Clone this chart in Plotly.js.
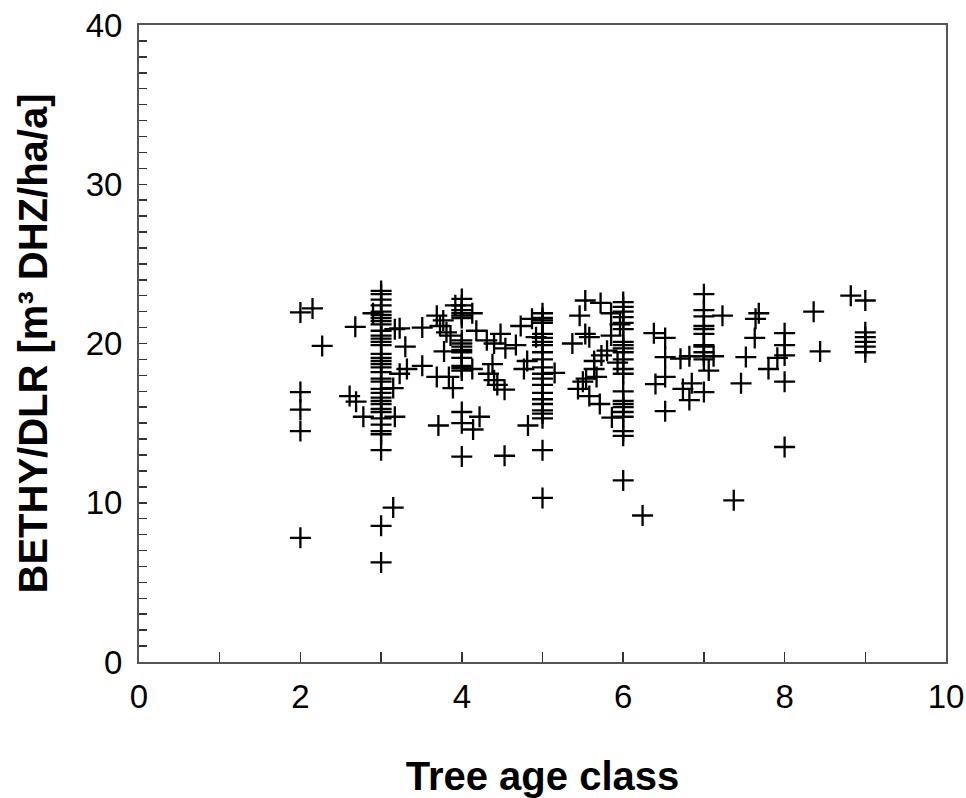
<!DOCTYPE html>
<html>
<head>
<meta charset="utf-8">
<script src="https://cdn.plot.ly/plotly-3.0.1.min.js"></script>
<style>html,body{margin:0;padding:0;background:#fff;}#chart{width:966px;height:798px;}</style>
</head>
<body>
<div id="chart"></div>
<script>
// Tree age class (x) and BETHY/DLR increment (y)
const ageClass = [
  // around class 2
  2,2,2,2,2,2.15,2.27,2.68,2.61,2.69,2.78,2.9,
  // class 3 column
  3,3,3,3,3,3,3,3,3,3,3,3,3,3,3,3,3,3,3,3,3,3,3,3,3,3,3,3,3,3,3,3,3,3,3,3,
  // between 3 and 4
  3.17,3.23,3.3,3.32,3.23,3.15,3.17,3.15,3.51,3.51,3.69,3.77,3.73,3.81,3.86,3.78,3.69,3.84,3.89,3.71,3.92,
  // class 4 column
  4,4,4,4,4,4,4,4,4,4,4,4,4,4,4,4,4,4,
  // between 4 and 5
  4.13,4.18,4.13,4.14,4.22,4.31,4.4,4.38,4.33,4.4,4.44,4.53,4.48,4.54,4.67,4.73,4.87,4.92,4.81,4.77,4.82,4.53,
  // class 5 column
  5,5,5,5,5,5,5,5,5,5,5,5,5,5,5,5,5,5,5,5,5,5,
  // between 5 and 6
  5.15,5.37,5.46,5.53,5.72,5.85,5.96,5.53,5.58,5.85,5.8,5.73,5.64,5.93,5.64,5.67,5.54,5.5,5.44,5.58,5.71,5.86,
  // class 6 column
  6,6,6,6,6,6,6,6,6,6,6,6,6,6,6,6,6,6,6,6,6,6,
  // between 6 and 7
  6.24,6.38,6.52,6.52,6.71,6.82,6.4,6.52,6.74,6.85,6.82,6.52,
  // class 7 column
  7,7,7,7,7,7,7,7,7,7,7,7,
  // between 7 and 8
  7.06,7.12,7.23,7.37,7.46,7.52,7.63,7.64,7.68,7.8,7.91,
  // class 8 column
  8,8,8,8,8,
  // between 8 and 9
  8.36,8.44,8.82,
  // class 9 column
  9,9,9,9,9,9
];
const bethyDlr = [
  21.95,16.95,15.85,14.5,7.8,22.2,19.85,21.05,16.7,16.35,15.4,21.9,
  23.3,23.1,22.75,22.4,22.0,21.8,21.6,21.4,21.2,20.8,20.5,20.3,20.1,19.9,19.35,19.1,18.9,18.7,18.5,18.2,17.8,17.6,17.15,16.9,16.6,16.4,16.2,15.9,15.7,15.3,14.9,14.5,14.3,13.3,8.55,6.25,
  20.9,20.95,19.8,18.4,18.1,17.2,15.4,9.7,21.0,18.6,21.75,21.45,21.1,20.7,20.5,19.5,17.9,17.9,17.2,14.85,22.4,
  22.8,22.4,22.1,21.9,21.75,21.6,20.2,20.0,19.8,19.6,19.45,19.1,18.6,18.45,18.3,15.7,15.0,12.9,
  21.9,20.8,18.4,14.6,15.4,20.2,20.0,18.7,18.1,17.7,17.4,17.1,20.6,19.7,19.9,21.1,21.55,20.4,18.9,18.4,14.85,12.95,
  21.9,21.6,21.45,21.3,20.6,20.35,20.1,19.9,19.45,19.0,18.5,18.1,17.8,17.4,16.9,16.5,16.2,15.8,15.6,15.3,13.3,10.3,
  18.15,20.0,21.75,22.7,22.55,21.9,21.2,20.6,20.4,20.5,19.55,19.25,18.9,18.8,18.4,17.9,17.8,17.6,17.15,16.7,16.2,15.35,
  22.6,22.3,22.0,21.65,21.3,20.9,20.1,19.9,19.7,19.45,19.0,18.4,18.1,17.0,16.4,16.2,16.0,15.7,15.4,14.5,14.2,11.4,
  9.2,20.65,20.35,19.15,19.05,19.2,17.45,17.9,17.15,17.5,16.45,15.75,
  23.1,22.1,21.7,21.1,20.9,20.6,19.9,19.8,19.45,19.2,19.0,16.95,
  18.3,19.2,21.75,10.15,17.5,19.15,20.35,21.55,21.9,18.4,19.1,
  20.65,19.9,19.25,17.6,13.5,
  22.0,19.5,23.0,
  22.7,20.7,20.4,20.1,19.8,19.45
];
const xTickVals = [0,2,4,6,8,10];
const yTickVals = [0,10,20,30,40];

const trace = {
  type: 'scatter',
  mode: 'markers',
  x: ageClass,
  y: bethyDlr,
  marker: {symbol: 'cross-thin-open', size: 15, color: '#000', line: {color: '#000', width: 2.3}},
  hoverinfo: 'x+y'
};

const axisFont = {family: 'Liberation Sans, Arial, sans-serif', size: 33, color: '#000'};
const titleFont = {family: 'Liberation Sans, Arial, sans-serif', size: 40, color: '#000'};
const layout = {
  width: 966, height: 798,
  margin: {l: 139, r: 20, t: 25, b: 136},
  paper_bgcolor: '#fff', plot_bgcolor: '#fff',
  showlegend: false,
  xaxis: {
    range: [0, 10], tickvals: xTickVals, ticks: 'inside', ticklen: 10, tickwidth: 1.5, tickcolor: '#333',
    minor: {dtick: 1, ticks: 'inside', ticklen: 10, tickwidth: 1.5, tickcolor: '#333'},
    showline: true, linecolor: '#555', linewidth: 2, mirror: true,
    showgrid: false, zeroline: false,
    tickfont: axisFont, ticklabelstandoff: 4,
    title: {text: '<b>Tree age class</b>', font: titleFont, standoff: 48}
  },
  yaxis: {
    range: [0, 40], tickvals: yTickVals, ticks: 'inside', ticklen: 8, tickwidth: 1.5, tickcolor: '#333',
    minor: {dtick: 1, ticks: 'inside', ticklen: 8, tickwidth: 1.5, tickcolor: '#333'},
    showline: true, linecolor: '#555', linewidth: 2, mirror: true,
    showgrid: false, zeroline: false,
    tickfont: axisFont, ticklabelstandoff: 8,
    title: {text: '<b>BETHY/DLR [m³ DHZ/ha/a]</b>', font: titleFont, standoff: 26}
  }
};

Plotly.newPlot('chart', [trace], layout, {displayModeBar: false, staticPlot: true});
</script>
</body>
</html>
